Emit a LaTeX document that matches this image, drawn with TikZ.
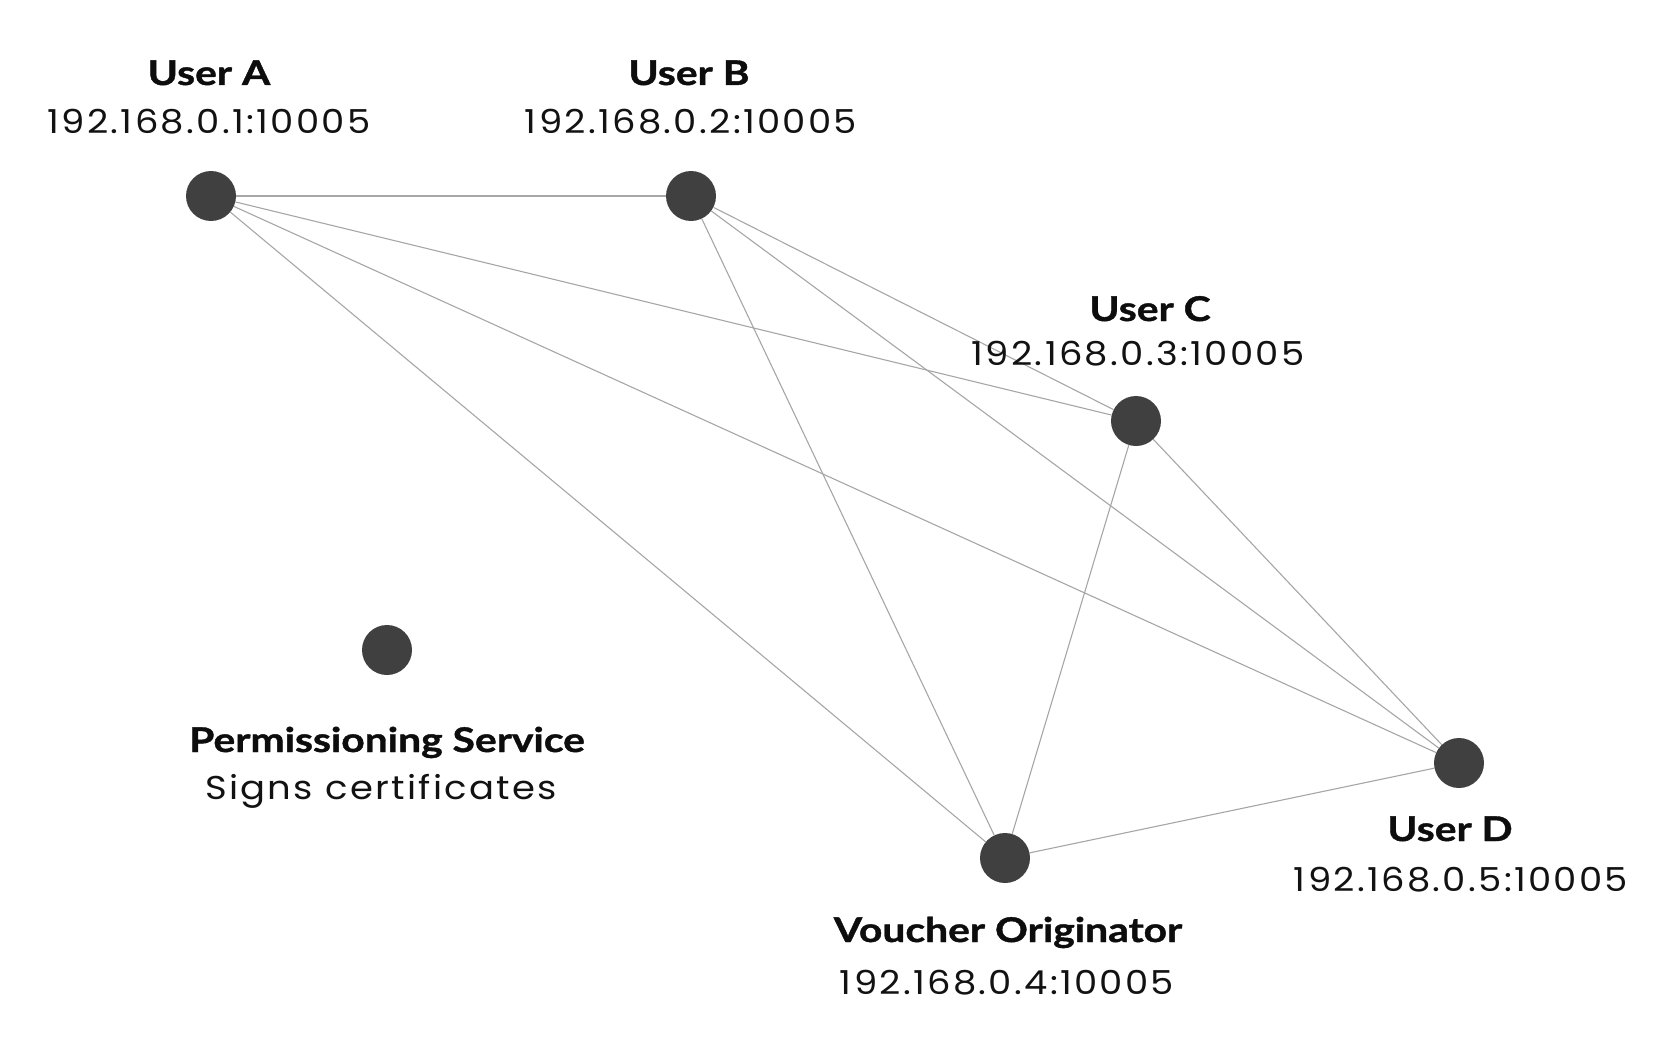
\documentclass[tikz,border=0pt]{standalone}
\usepackage{fontspec}
\setmainfont{Poppins}[FakeStretch=1.12,LetterSpace=7]
\newfontfamily\lblbold{Lato}[FakeStretch=1.2,FakeBold=1.2]
\begin{document}
\begin{tikzpicture}[x=1pt,y=-1pt,
  peer/.style={circle,fill=black!75,inner sep=0pt,minimum size=50pt},
  link/.style={draw=black!35,line width=1.1pt},
  ttl/.style={anchor=base,inner sep=0pt,text=black!95,font=\lblbold\bfseries\fontsize{34}{34}\selectfont},
  sub/.style={anchor=base,inner sep=0pt,text=black!93,font=\fontsize{33}{33}\selectfont}]
\useasboundingbox (0,0) rectangle (1680,1062);
\node[peer] (A) at (211,196) {};
\node[peer] (B) at (691,196) {};
\node[peer] (C) at (1136,421) {};
\node[peer] (D) at (1459,763) {};
\node[peer] (V) at (1005,858) {};
\node[peer] (P) at (387,650) {};
\foreach \s/\t in {A/B,A/C,A/D,A/V,B/C,B/D,B/V,C/D,C/V,V/D}
  \draw[link] (\s) -- (\t);
\node[ttl] (tA) at (209,85) {User A};
\node[sub] (sA) at (209,134) {192.168.0.1:10005};
\node[ttl] (tB) at (689,85) {User B};
\node[sub] (sB) at (691,134) {192.168.0.2:10005};
\node[ttl] (tC) at (1150,321) {User C};
\node[sub] (sC) at (1138,365) {192.168.0.3:10005};
\node[ttl] (tD) at (1450,841) {User D};
\node[sub] (sD) at (1461,891) {192.168.0.5:10005};
\node[ttl] (tV) at (1008,942) {Voucher Originator};
\node[sub] (sV) at (1007,994) {192.168.0.4:10005};
\node[ttl] (tP) at (387,752) {Permissioning Service};
\node[sub] (sP) at (381,799) {Signs certificates};
\end{tikzpicture}
\end{document}
